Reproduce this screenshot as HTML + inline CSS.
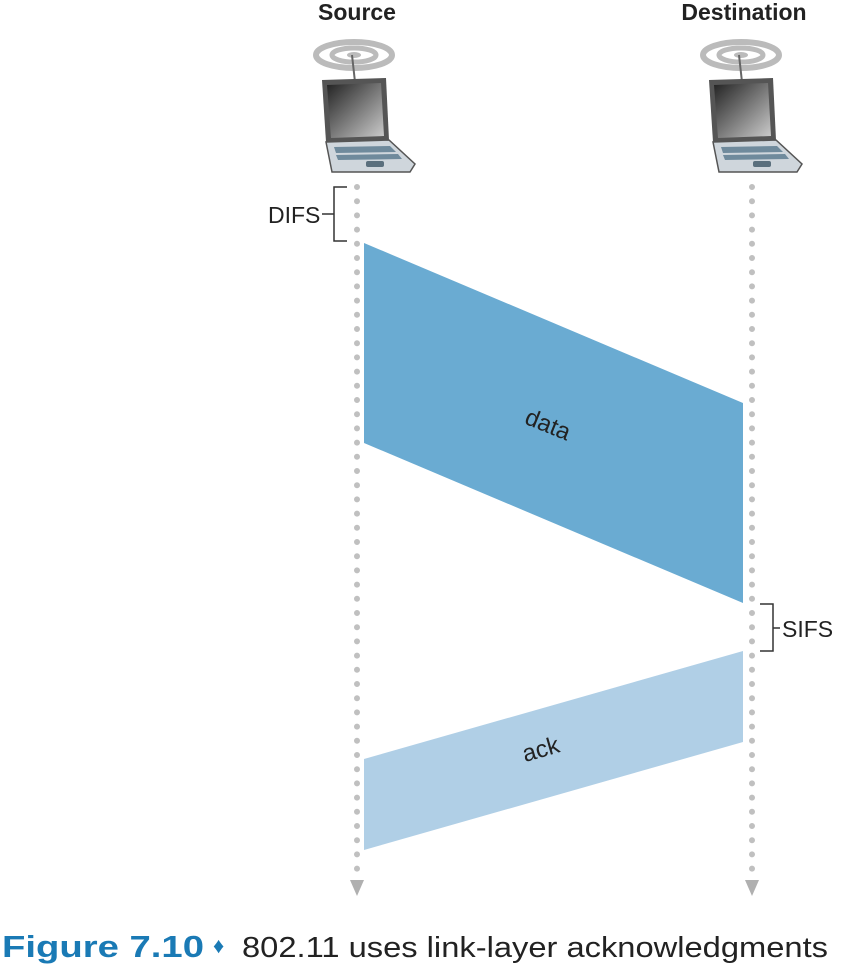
<!DOCTYPE html>
<html><head><style>
body{margin:0;background:#fff;}
svg{display:block}
</style></head><body>
<svg width="841" height="972" viewBox="0 0 841 972" xmlns="http://www.w3.org/2000/svg">
<defs>
<linearGradient id="scr" x1="0" y1="0" x2="1" y2="1">
<stop offset="0" stop-color="#222"/><stop offset="0.6" stop-color="#888"/><stop offset="1" stop-color="#ccc"/></linearGradient>
<g id="laptop">
 <ellipse cx="-4" cy="-57" rx="38" ry="13" fill="none" stroke="#bbb" stroke-width="6"/>
 <ellipse cx="-4" cy="-57" rx="22" ry="7" fill="none" stroke="#bbb" stroke-width="5"/>
 <ellipse cx="-4" cy="-57" rx="7" ry="3" fill="#bbb"/>
 <line x1="-6" y1="-57" x2="-3" y2="-30" stroke="#666" stroke-width="2"/>
 <path d="M-36,-32 L28,-34 L31,28 L-32,30 Z" fill="#555"/>
 <path d="M-31,-27 L23,-29 L26,24 L-27,26 Z" fill="url(#scr)"/>
 <path d="M-32,30 L31,28 L57,52 L52,60 L-26,60 Z" fill="#cfd6dc" stroke="#555" stroke-width="1.5"/>
 <path d="M-24,35 L32,34 L38,40 L-22,41 Z" fill="#6f8a9c"/>
 <path d="M-22,43 L40,42 L44,47 L-20,48 Z" fill="#6f8a9c"/>
 <rect x="8" y="49" width="18" height="6" rx="2" fill="#5a6f7d"/>
</g>
</defs>
<text x="357" y="20" text-anchor="middle" font-family="Liberation Sans, sans-serif" font-weight="bold" font-size="23" fill="#222">Source</text>
<text x="744" y="20" text-anchor="middle" font-family="Liberation Sans, sans-serif" font-weight="bold" font-size="23" fill="#222">Destination</text>
<use href="#laptop" x="358" y="112"/>
<use href="#laptop" x="745" y="112"/>
<line x1="357" y1="187" x2="357" y2="873" stroke="#c0c0c0" stroke-width="6" stroke-linecap="round" stroke-dasharray="0 14.2"/>
<line x1="752" y1="187" x2="752" y2="873" stroke="#c0c0c0" stroke-width="6" stroke-linecap="round" stroke-dasharray="0 14.2"/>
<polygon points="350,880 364,880 357,896" fill="#b0b0b0"/>
<polygon points="745,880 759,880 752,896" fill="#b0b0b0"/>
<polygon points="364,243 743,403 743,603 364,443" fill="#6aabd2"/>
<polygon points="364,759 743,651 743,742 364,850" fill="#b0cfe6"/>
<text transform="translate(545,432) rotate(22)" text-anchor="middle" font-family="Liberation Sans, sans-serif" font-size="24" fill="#222">data</text>
<text transform="translate(543,757) rotate(-16)" text-anchor="middle" font-family="Liberation Sans, sans-serif" font-size="24" fill="#222">ack</text>
<path d="M347,187 H334 V241 H347 M334,214 H322" fill="none" stroke="#333" stroke-width="1.5"/>
<text x="268" y="223" font-family="Liberation Sans, sans-serif" font-size="23" fill="#222">DIFS</text>
<path d="M760,604 H773 V651 H760 M773,628 H780" fill="none" stroke="#333" stroke-width="1.5"/>
<text x="782" y="637" font-family="Liberation Sans, sans-serif" font-size="23" fill="#222">SIFS</text>
<text x="2" y="957" font-family="Liberation Sans, sans-serif" font-size="31" fill="#1a7ab5" font-weight="bold" textLength="202" lengthAdjust="spacingAndGlyphs">Figure 7.10</text>
<text x="213" y="953" font-family="Liberation Sans, sans-serif" font-size="22" fill="#1a7ab5">♦</text>
<text x="242" y="957" font-family="Liberation Sans, sans-serif" font-size="29" fill="#222" textLength="586" lengthAdjust="spacingAndGlyphs">802.11 uses link-layer acknowledgments</text>
</svg>
</body></html>
